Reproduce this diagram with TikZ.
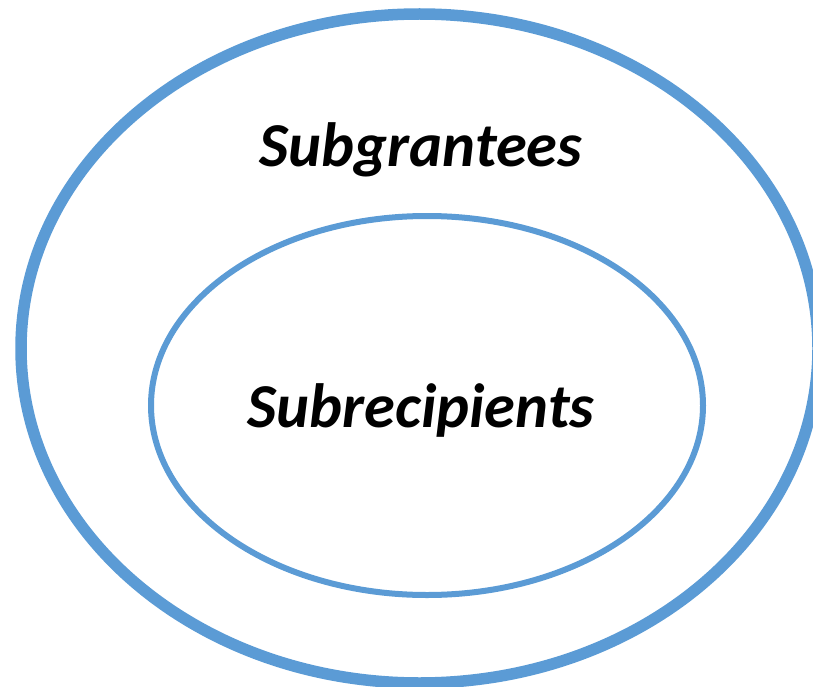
\documentclass[tikz,border=0pt]{standalone}
\usepackage{fontspec}
\setmainfont{Carlito}
\definecolor{ringblue}{HTML}{5B9BD5}
\begin{document}
\begin{tikzpicture}[x=1pt,y=-1pt,
  ring/.style={draw=ringblue},
  lbl/.style={anchor=base,inner sep=0pt,font=\fontsize{62.5}{75}\selectfont\bfseries\itshape}]
\useasboundingbox (0,0) rectangle (813,687);
\begin{scope}
\clip (0,0) rectangle (813,687);
\draw[ring,line width=11.5pt] (419.5,348.5) ellipse [x radius=398.5, y radius=334.5];
\draw[ring,line width=6pt] (427,405.5) ellipse [x radius=276, y radius=189.5];
\end{scope}
\node[lbl] (outer) at (421,167) {Subgrantees};
\node[lbl] (inner) at (421,427) {Subrecipients};
\end{tikzpicture}
\end{document}
